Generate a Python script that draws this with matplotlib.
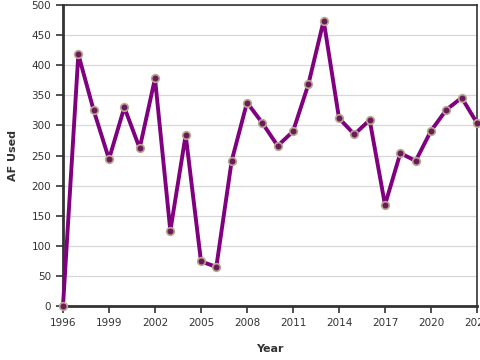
import matplotlib
matplotlib.use("Agg")
import matplotlib.pyplot as plt

years = list(range(1996, 2024))
af_used = [0, 418, 325, 244, 330, 262, 378, 125, 284, 74, 65, 241, 338, 304,
           266, 290, 368, 474, 312, 285, 309, 168, 254, 241, 291, 326, 346, 304]
xticks = [1996, 1999, 2002, 2005, 2008, 2011, 2014, 2017, 2020, 2023]
yticks = [0, 50, 100, 150, 200, 250, 300, 350, 400, 450, 500]

fig = plt.figure(figsize=(4.8, 3.6), dpi=100)
ax = fig.add_axes([63/480, 1-306/360, (477-63)/480, (306-5)/360])
ax.plot(years, af_used, color="#800080", lw=2.8, marker="o", ms=5.5,
        mfc="#6b1a5a", mec="#b8a890", mew=1.2, zorder=3, clip_on=False)
ax.set_xlim(1996, 2023)
ax.set_ylim(0, 500)
ax.set_xticks(xticks)
ax.set_yticks(yticks)
ax.grid(axis="y", color="#d8d8d8", lw=0.9)
ax.set_axisbelow(True)
for s in ["left", "bottom"]:
    ax.spines[s].set_linewidth(2)
    ax.spines[s].set_color("#333333")
for s in ["top", "right"]:
    ax.spines[s].set_linewidth(1.2)
    ax.spines[s].set_color("#333333")
ax.tick_params(direction="out", length=5, width=1.2, color="#333333",
               labelsize=7.5, labelcolor="#333333")
ax.set_xlabel("Year", fontsize=8, fontweight="bold", color="#333333", labelpad=12)
ax.set_ylabel("AF Used", fontsize=8, fontweight="bold", color="#333333", labelpad=10)
fig.savefig("out.png", dpi=100)
